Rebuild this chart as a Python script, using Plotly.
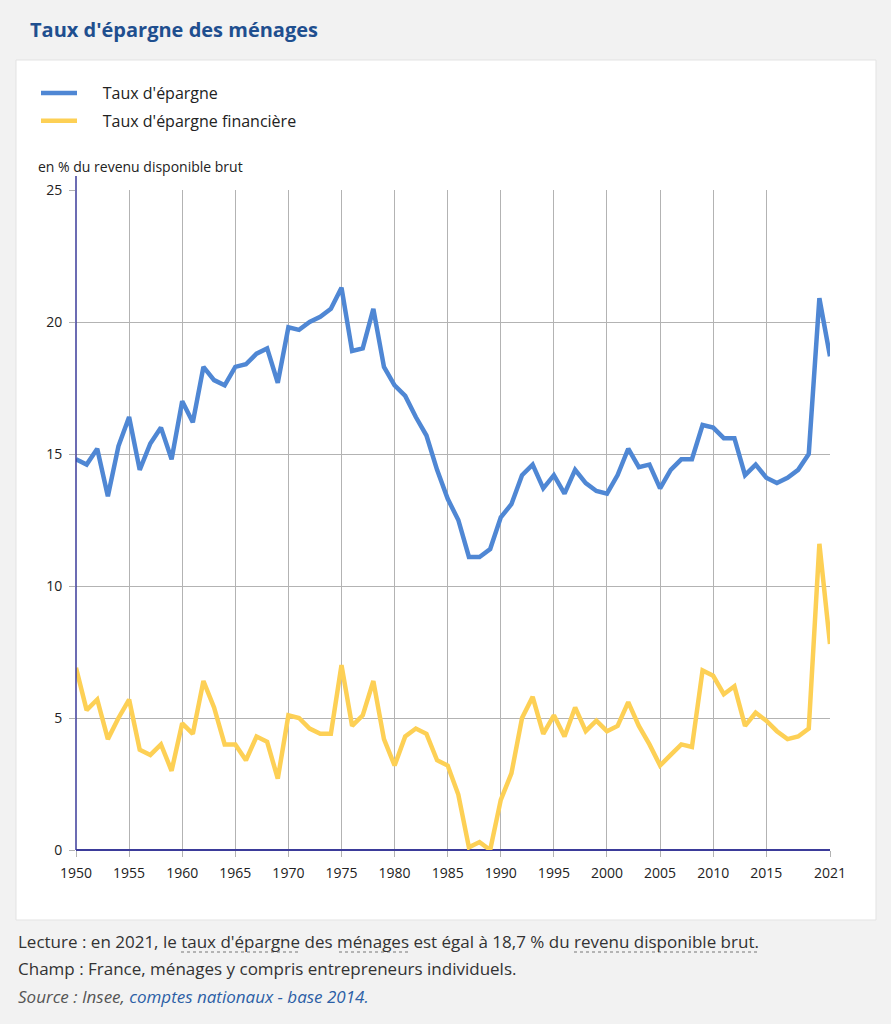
import plotly.graph_objects as go

# Taux d'épargne des ménages, France, 1950-2021 (en % du RDB)
annees = list(range(1950, 2022))

taux_epargne = [
    14.8, 14.6, 15.2, 13.4, 15.3, 16.4, 14.4, 15.4, 16.0, 14.8,
    17.0, 16.2, 18.3, 17.8, 17.6, 18.3, 18.4, 18.8, 19.0, 17.7,
    19.8, 19.7, 20.0, 20.2, 20.5, 21.3, 18.9, 19.0, 20.5, 18.3,
    17.6, 17.2, 16.4, 15.7, 14.4, 13.3, 12.5, 11.1, 11.1, 11.4,
    12.6, 13.1, 14.2, 14.6, 13.7, 14.2, 13.5, 14.4, 13.9, 13.6,
    13.5, 14.2, 15.2, 14.5, 14.6, 13.7, 14.4, 14.8, 14.8, 16.1,
    16.0, 15.6, 15.6, 14.2, 14.6, 14.1, 13.9, 14.1, 14.4, 15.0,
    20.9, 18.7,
]

taux_epargne_fin = [
    6.9, 5.3, 5.7, 4.2, 5.0, 5.7, 3.8, 3.6, 4.0, 3.0,
    4.8, 4.4, 6.4, 5.4, 4.0, 4.0, 3.4, 4.3, 4.1, 2.7,
    5.1, 5.0, 4.6, 4.4, 4.4, 7.0, 4.7, 5.1, 6.4, 4.2,
    3.2, 4.3, 4.6, 4.4, 3.4, 3.2, 2.1, 0.1, 0.3, 0.0,
    1.9, 2.9, 5.0, 5.8, 4.4, 5.1, 4.3, 5.4, 4.5, 4.9,
    4.5, 4.7, 5.6, 4.7, 4.0, 3.2, 3.6, 4.0, 3.9, 6.8,
    6.6, 5.9, 6.2, 4.7, 5.2, 4.9, 4.5, 4.2, 4.3, 4.6,
    11.6, 7.8,
]

x_ticks = [1950, 1955, 1960, 1965, 1970, 1975, 1980, 1985, 1990, 1995,
           2000, 2005, 2010, 2015, 2021]
y_ticks = [0, 5, 10, 15, 20, 25]

BLEU = "#4f87d4"
JAUNE = "#fdd055"
FONT = "Open Sans"
GAP = "\u00a0" * 5  # wider gap between legend line and text

# plot area in pixels: x 76-830, y 190-850
W, H = 891, 1024
L, R, T, B = 76, 61, 190, 174
pw, ph = W - L - R, H - T - B


def px_x(p):
    return (p - L) / pw


def px_y(p):
    return (H - B - p) / ph


fig = go.Figure()
fig.add_trace(go.Scatter(x=annees, y=taux_epargne, mode="lines",
                         name=GAP + "Taux d'épargne", legendgroup="a",
                         line=dict(color=BLEU, width=4.5)))
fig.add_trace(go.Scatter(x=annees, y=taux_epargne_fin, mode="lines",
                         name=GAP + "Taux d'épargne financière", legendgroup="b",
                         line=dict(color=JAUNE, width=4.5)))

shapes = [
    # white card
    dict(type="rect", xref="paper", yref="paper", layer="below",
         x0=px_x(16), x1=px_x(876), y0=px_y(920), y1=px_y(60),
         fillcolor="white", line=dict(color="#e3e3e3", width=1)),
    # y axis line
    dict(type="line", xref="paper", yref="paper",
         x0=0, x1=0, y0=0, y1=px_y(176),
         line=dict(color="#3b3b9a", width=1.5)),
]
# dotted underlines of the glossary terms
for a, b in [(181, 299), (339, 408), (574, 757)]:
    shapes.append(dict(type="line", xref="paper", yref="paper",
                       x0=px_x(a), x1=px_x(b), y0=px_y(952), y1=px_y(952),
                       line=dict(color="#777", width=1, dash="dot")))

annotations = [
    dict(text="en % du revenu disponible brut", xref="paper", yref="paper",
         x=px_x(36), y=px_y(166), xanchor="left", yanchor="middle",
         showarrow=False, font=dict(size=14, color="#222")),
    dict(text="Lecture : en 2021, le taux d'épargne des ménages est égal à 18,7 % du revenu disponible brut.",
         xref="paper", yref="paper", x=px_x(16), y=px_y(941),
         xanchor="left", yanchor="middle", showarrow=False,
         font=dict(size=17, color="#333")),
    dict(text="Champ : France, ménages y compris entrepreneurs individuels.",
         xref="paper", yref="paper", x=px_x(16), y=px_y(969),
         xanchor="left", yanchor="middle", showarrow=False,
         font=dict(size=17, color="#333")),
    dict(text="<i>Source : Insee, <span style='color:#2c5fa6'>comptes nationaux - base 2014.</span></i>",
         xref="paper", yref="paper", x=px_x(16), y=px_y(996),
         xanchor="left", yanchor="middle", showarrow=False,
         font=dict(size=17, color="#555")),
]

fig.update_layout(
    width=W, height=H,
    margin=dict(l=L, r=R, t=T, b=B),
    paper_bgcolor="#f2f2f2",
    plot_bgcolor="white",
    font=dict(family=FONT, color="#222"),
    title=dict(text="<b>Taux d'épargne des ménages</b>",
               xref="container", yref="container",
               x=30 / W, y=1 - 30 / H, xanchor="left", yanchor="middle",
               font=dict(size=20, color="#1f4f8f", family=FONT)),
    showlegend=True,
    legend=dict(x=px_x(36), y=px_y(76), xanchor="left", yanchor="top",
                bgcolor="rgba(0,0,0,0)", font=dict(size=16, color="#222"),
                itemwidth=36, tracegroupgap=4),
    shapes=shapes,
    annotations=annotations,
)

fig.update_xaxes(range=[1950, 2021], tickvals=x_ticks,
                 ticktext=[str(v) for v in x_ticks],
                 showgrid=True, gridcolor="#b3b3b3", gridwidth=1,
                 ticks="outside", ticklen=6, tickcolor="#b3b3b3",
                 tickfont=dict(size=14, color="#222"), ticklabelstandoff=4,
                 showline=False, zeroline=False)
fig.update_yaxes(range=[0, 25], tickvals=y_ticks,
                 showgrid=True, gridcolor="#b3b3b3", gridwidth=1,
                 ticks="outside", ticklen=6, tickcolor="#b3b3b3",
                 tickfont=dict(size=14, color="#222"), ticklabelstandoff=4,
                 zeroline=True, zerolinecolor="#3b3b9a", zerolinewidth=2,
                 showline=False)

fig.write_html("out.html", config={"displayModeBar": False},
               post_script="document.body.style.margin='0';"
                           "document.body.style.background='#f2f2f2';")
